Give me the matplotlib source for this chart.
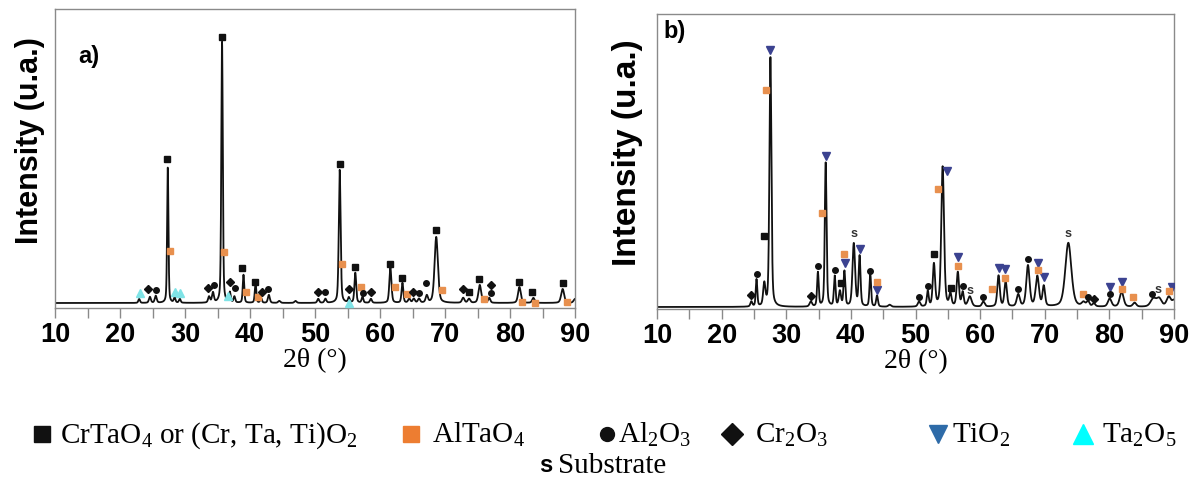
import numpy as np
import matplotlib.pyplot as plt

plt.rcParams['mathtext.fontset'] = 'custom'
plt.rcParams['mathtext.rm'] = 'Liberation Serif'
plt.rcParams['mathtext.it'] = 'Liberation Serif:italic'

#PEAK LISTS (position 2theta, apex height, FWHM)
a_pos = [22.95, 24.6, 25.5, 27.35, 28.4, 29.2, 33.7, 34.3, 35.7, 36.9, 37.6, 39.0, 40.85,
         41.7, 42.9, 44.5, 47.0, 50.5, 51.6, 53.8, 55.2, 56.2, 57.3, 58.6, 61.6, 63.45,
         64.5, 65.2, 66.0, 67.2, 68.65, 72.8, 73.7, 75.35, 76.8, 81.45, 83.6, 88.1, 90.0]
a_height = [4, 6, 7, 136, 5, 4, 6, 10, 261, 10, 6, 28, 20,
            5, 8, 2, 2, 4, 4, 133, 5, 30, 6, 4, 35, 20,
            4, 4, 4, 7, 66, 5, 4, 18, 5, 16, 5, 14, 4]
a_fwhm = [0.3, 0.35, 0.35, 0.24, 0.3, 0.3, 0.35, 0.35, 0.27, 0.3, 0.3, 0.27, 0.27,
          0.3, 0.35, 0.4, 0.4, 0.35, 0.35, 0.33, 0.3, 0.32, 0.3, 0.35, 0.38, 0.32,
          0.4, 0.4, 0.4, 0.4, 0.6, 0.45, 0.45, 0.5, 0.4, 0.5, 0.45, 0.55, 0.5]

b_pos = [24.6, 25.4, 26.6, 27.55, 33.8, 34.9, 36.1, 37.5, 38.3, 39.0, 40.45, 41.35, 43.0,
         44.05, 46.0, 50.55, 51.9, 52.85, 54.2, 55.4, 56.55, 57.3, 58.4, 60.5, 62.85, 63.95,
         65.9, 67.4, 68.85, 69.85, 73.65, 76.0, 76.7, 77.6, 80.05, 81.9, 83.9, 86.8, 87.7,
         89.2, 90.0]
b_height = [5, 27, 22, 250, 5, 34, 144, 30, 15, 35, 63, 50, 33,
            11, 2, 5, 15, 42, 140, 12, 34, 14, 10, 5, 31, 25,
            12, 41, 30, 20, 64, 4, 5, 3, 8, 15, 4, 8, 8,
            10, 6]
b_fwhm = [0.35, 0.28, 0.4, 0.36, 0.45, 0.3, 0.32, 0.3, 0.4, 0.32, 0.48, 0.34, 0.3,
          0.33, 0.5, 0.45, 0.34, 0.42, 0.5, 0.4, 0.42, 0.4, 0.65, 0.5, 0.45, 0.45,
          0.55, 0.6, 0.6, 0.45, 1.1, 0.65, 0.5, 0.5, 0.65, 0.7, 0.6, 1.0, 0.9,
          0.8, 0.6]

#PHASE MARKERS (2theta, intensity)
a_crtao4 = [(27.3, 144), (35.7, 266), (38.8, 35), (40.7, 21), (53.8, 139), (56.1, 36),
            (61.55, 39), (63.4, 25), (68.65, 73), (73.7, 11), (75.3, 24), (81.4, 21),
            (83.4, 11), (88.1, 20)]
a_altao4 = [(27.7, 52), (36.0, 51), (39.4, 11), (41.2, 6), (54.2, 39), (57.0, 16),
            (62.3, 16), (64.2, 9), (69.5, 13), (76.0, 4), (81.8, 1), (83.9, 0), (88.8, 1)]
a_al2o3 = [(25.5, 13), (34.4, 18), (37.7, 15), (42.8, 14), (51.5, 11), (57.4, 10),
           (66.0, 10), (67.1, 20), (77.0, 10)]
a_cr2o3 = [(24.3, 14), (33.6, 15), (36.9, 21), (41.8, 11), (50.5, 11), (55.2, 14),
           (58.6, 11), (65.1, 11), (72.7, 14), (77.0, 18)]
a_ta2o5 = [(23.0, 10), (28.4, 11), (29.2, 10), (36.6, 7), (55.2, 0)]

b_tio2 = [(27.55, 257), (36.1, 151), (39.05, 44), (41.4, 58), (44.05, 17), (54.9, 136),
          (56.6, 50), (62.85, 39), (63.9, 38), (69.0, 44), (69.9, 30), (80.1, 20),
          (81.9, 25), (89.7, 20)]
b_altao4 = [(26.8, 217), (35.5, 94), (39.0, 53), (44.05, 25), (53.45, 118), (56.6, 41),
            (61.9, 18), (63.9, 29), (68.95, 37), (75.9, 13), (81.9, 18), (83.7, 10),
            (89.3, 16)]
b_crtao4 = [(26.6, 71), (38.4, 24), (52.85, 53), (55.5, 19)]
b_al2o3 = [(25.4, 33), (34.9, 41), (37.5, 37), (43.0, 36), (50.6, 10), (52.0, 21),
           (57.3, 21), (60.5, 10), (65.9, 18), (67.45, 48), (76.7, 10), (80.1, 13),
           (86.6, 13)]
b_cr2o3 = [(24.6, 12), (33.8, 11), (77.6, 8)]
b_substrate = [(40.5, 73), (58.45, 16), (73.6, 73), (87.5, 17)]

two_theta = np.arange(10, 90.001, 0.02)


def pattern(pos, height, fwhm):
    y = np.zeros_like(two_theta)
    for p, h, w in zip(pos, height, fwhm):
        g = np.exp(-4 * np.log(2) * ((two_theta - p) / w) ** 2)
        l = 1 / (1 + ((two_theta - p) / (w / 2)) ** 2)
        y += h * (0.6 * g + 0.4 * l)
    return y


def pts(lst):
    return [p[0] for p in lst], [p[1] for p in lst]


BLACK = "#111111"
ORANGE = "#E8904E"
NAVY = "#3B4290"
CYAN = "#7FE3E6"
FRAME = "#8a8a8a"

fig = plt.figure(figsize=(12, 4.86), dpi=100)
ax_a = fig.add_axes([55 / 1200, 1 - 308 / 486, 520 / 1200, 299 / 486])
ax_b = fig.add_axes([657 / 1200, 1 - 309 / 486, 517 / 1200, 295 / 486])

panels = [
    (ax_a, pattern(a_pos, a_height, a_fwhm), (-5, 294), "a)", (0.045, 0.82), 22, (-0.02, 0.56)),
    (ax_b, pattern(b_pos, b_height, b_fwhm), (-2, 293), "b)", (0.012, 0.92), 24, (-0.028, 0.53)),
]
for ax, curve, ylim, tag, tagpos, ylab_size, ylab_xy in panels:
    ax.plot(two_theta, curve, color=BLACK, linewidth=1.3, zorder=2)
    ax.set_xlim(10, 90)
    ax.set_ylim(*ylim)
    ax.set_yticks([])
    ax.set_xticks(range(10, 91, 10))
    ax.set_xticks(range(15, 90, 10), minor=True)
    ax.tick_params(axis="x", which="both", direction="out", length=7, width=1,
                   color=FRAME, pad=3)
    for lab in ax.get_xticklabels():
        lab.set_fontfamily("Liberation Sans")
        lab.set_fontweight("bold")
        lab.set_fontsize(19.5)
    for sp in ax.spines.values():
        sp.set_color(FRAME)
        sp.set_linewidth(1)
    ax.set_xlabel("2θ (°)", fontfamily="Liberation Serif", fontsize=20, labelpad=0)
    ax.set_ylabel("Intensity (u.a.)", fontfamily="Liberation Sans", fontweight="bold",
                  fontsize=ylab_size)
    ax.yaxis.set_label_coords(*ylab_xy)
    ax.text(tagpos[0], tagpos[1], tag, transform=ax.transAxes, fontfamily="Liberation Sans",
            fontweight="bold", fontsize=17)

#MARKERS PANEL A
x, y = pts(a_crtao4)
ax_a.plot(x, y, "s", color=BLACK, markersize=4.5, linestyle="none", zorder=3)
x, y = pts(a_altao4)
ax_a.plot(x, y, "s", color=ORANGE, markersize=4.5, linestyle="none", zorder=3)
x, y = pts(a_al2o3)
ax_a.plot(x, y, "o", color=BLACK, markersize=4, linestyle="none", zorder=3)
x, y = pts(a_cr2o3)
ax_a.plot(x, y, "D", color=BLACK, markersize=4, linestyle="none", zorder=3)
x, y = pts(a_ta2o5)
ax_a.plot(x, y, "^", color=CYAN, markersize=5.5, linestyle="none", zorder=3)

#MARKERS PANEL B
x, y = pts(b_tio2)
ax_b.plot(x, y, "v", color=NAVY, markersize=5.5, linestyle="none", zorder=3)
x, y = pts(b_altao4)
ax_b.plot(x, y, "s", color=ORANGE, markersize=4.5, linestyle="none", zorder=3)
x, y = pts(b_crtao4)
ax_b.plot(x, y, "s", color=BLACK, markersize=4.5, linestyle="none", zorder=3)
x, y = pts(b_al2o3)
ax_b.plot(x, y, "o", color=BLACK, markersize=4, linestyle="none", zorder=3)
x, y = pts(b_cr2o3)
ax_b.plot(x, y, "D", color=BLACK, markersize=4, linestyle="none", zorder=3)
for sx, sy in b_substrate:
    ax_b.text(sx, sy, "s", color="#333333", fontfamily="Liberation Sans", fontweight="bold",
              fontsize=9, ha="center", va="center", zorder=3)

#LEGEND (drawn in pixel space of an overlay axes)
leg = fig.add_axes([0, 0, 1, 1])
leg.set_xlim(0, 1200)
leg.set_ylim(486, 0)
leg.axis("off")

leg_items = [
    ("s", BLACK, 12, 42, "CrTaO$_4$ or (Cr, Ta, Ti)O$_2$", 60),
    ("s", "#ED7D31", 11, 411, "AlTaO$_4$", 432),
    ("o", BLACK, 10, 607, "Al$_2$O$_3$", 618),
    ("D", BLACK, 11, 732, "Cr$_2$O$_3$", 755),
    ("v", "#2E6BA8", 13, 938, "TiO$_2$", 952),
    ("^", "#00FFFF", 15, 1083, "Ta$_2$O$_5$", 1102),
]
for mk, col, ms, mx, label, tx in leg_items:
    leg.plot([mx], [434], mk, color=col, markersize=ms, linestyle="none")
    leg.text(tx, 443, label, fontfamily="Liberation Serif", fontsize=21, va="baseline")
leg.text(546, 465, "s", fontfamily="Liberation Sans", fontweight="bold", fontsize=17,
         ha="center", va="center")
leg.text(558, 473, "Substrate", fontfamily="Liberation Serif", fontsize=21, va="baseline")

plt.savefig("out.png", dpi=100)
